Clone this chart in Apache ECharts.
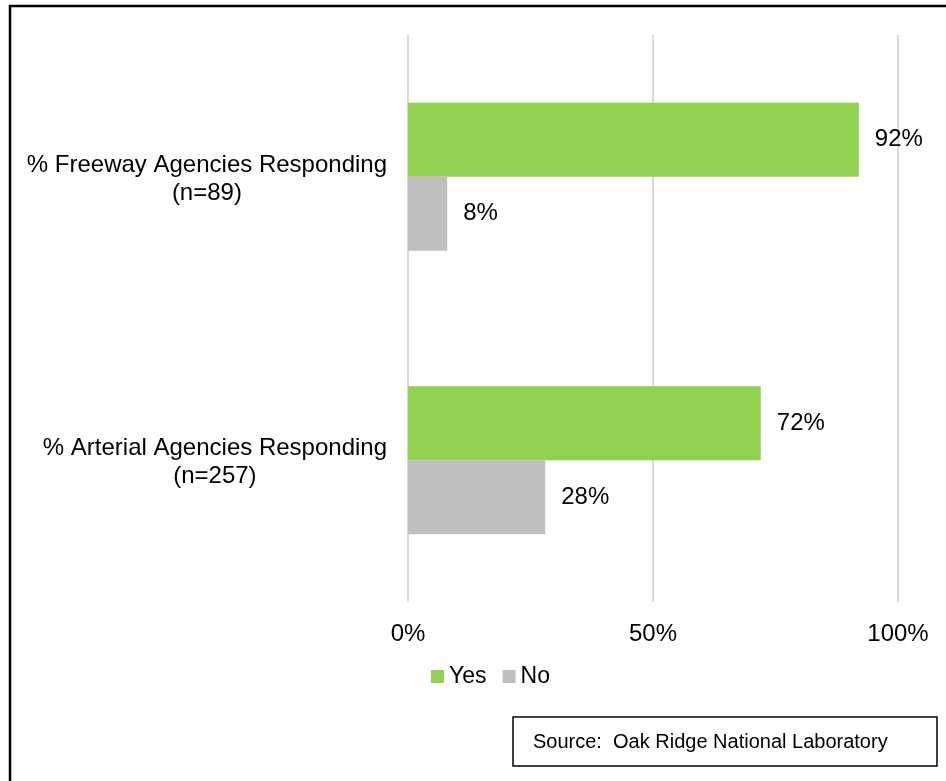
<!DOCTYPE html>
<html>
<head>
<meta charset="utf-8">
<script src="https://cdn.jsdelivr.net/npm/echarts@6/dist/echarts.min.js"></script>
<style>
  html, body { margin: 0; padding: 0; background: #fff; }
  #chart { width: 946px; height: 781px; }
</style>
</head>
<body>
<div id="chart"></div>
<script>
// 类别（从上到下）
var categories = ['% Freeway Agencies Responding\n(n=89)', '% Arterial Agencies Responding\n(n=257)'];
var yesValues = [92, 72];
var noValues = [8, 28];
var xTicks = [0, 50, 100];
var seriesNames = ['Yes', 'No'];
var sourceText = 'Source:  Oak Ridge National Laboratory';

var FONT = "'Liberation Sans', Arial, sans-serif";
var myChart = echarts.init(document.getElementById('chart'));

var option = {
    backgroundColor: '#fff',
    animation: false,
    color: ['#92d050', '#bfbfbf'],
    textStyle: { fontFamily: FONT, color: '#000' },
    grid: { left: 408, right: 48, top: 35, bottom: 179, containLabel: false },
    legend: {
        data: seriesNames,
        left: 431,
        top: 665,
        padding: 0,
        itemWidth: 13,
        itemHeight: 13,
        itemGap: 16,
        icon: 'rect',
        textStyle: { fontSize: 23, color: '#000', fontFamily: FONT }
    },
    xAxis: {
        type: 'value',
        min: xTicks[0],
        max: xTicks[xTicks.length - 1],
        interval: 50,
        axisLine: { show: false },
        axisTick: { show: false },
        splitLine: { show: true, lineStyle: { color: '#d9d9d9', width: 2 } },
        axisLabel: {
            margin: 20,
            fontSize: 24,
            color: '#000',
            fontFamily: FONT,
            formatter: function (v) { return v + '%'; }
        }
    },
    yAxis: {
        type: 'category',
        inverse: true,
        data: categories,
        axisLine: { show: false },
        axisTick: { show: false },
        axisLabel: {
            margin: 21,
            padding: [5, 0, 0, 0],
            fontFamily: FONT,
            formatter: function (v) {
                return v.split('\n').map(function (s) { return '{a|' + s + '}'; }).join('\n');
            },
            rich: {
                a: { fontSize: 24, lineHeight: 28, align: 'center', color: '#000', fontFamily: FONT }
            }
        }
    },
    series: [
        {
            name: seriesNames[0],
            type: 'bar',
            data: yesValues,
            barWidth: 74,
            barGap: '0%',
            label: {
                show: true, position: 'right', distance: 16,
                fontSize: 24, color: '#000', fontFamily: FONT,
                formatter: '{c}%'
            }
        },
        {
            name: seriesNames[1],
            type: 'bar',
            data: noValues,
            barWidth: 74,
            barGap: '0%',
            label: {
                show: true, position: 'right', distance: 16,
                fontSize: 24, color: '#000', fontFamily: FONT,
                formatter: '{c}%'
            }
        }
    ],
    graphic: [
        // 外框
        {
            type: 'rect',
            shape: { x: 10, y: 6, width: 980, height: 820 },
            style: { fill: null, stroke: '#000', lineWidth: 2.5 },
            silent: true
        },
        // 来源框
        {
            type: 'rect',
            shape: { x: 513, y: 717, width: 424, height: 49 },
            style: { fill: '#fff', stroke: '#000', lineWidth: 1.5 },
            silent: true
        },
        {
            type: 'text',
            left: 533,
            top: 732,
            style: { text: sourceText, fontSize: 20, fill: '#000', fontFamily: FONT },
            silent: true
        }
    ]
};
myChart.setOption(option);
</script>
</body>
</html>
